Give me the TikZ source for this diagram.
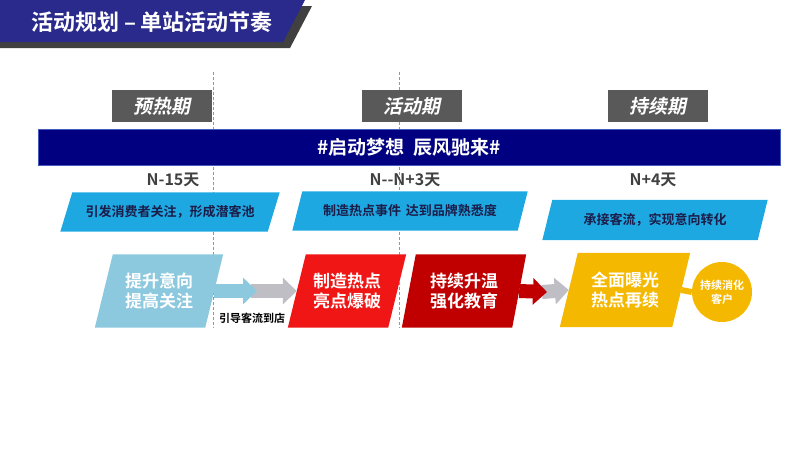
\documentclass[tikz,border=0pt]{standalone}
\usepackage{fontspec}
\setmainfont{Noto Sans CJK SC}[BoldFont={Noto Sans CJK SC Bold}]
\newfontfamily\phasefont{Noto Sans CJK SC Bold}[FakeSlant=0.2]
\usetikzlibrary{arrows.meta,backgrounds}
\definecolor{titleblue}{RGB}{42,42,140}
\definecolor{shadowgray}{RGB}{64,64,64}
\definecolor{phasegray}{RGB}{89,89,89}
\definecolor{barnavy}{RGB}{0,0,128}
\definecolor{barrim}{RGB}{70,90,190}
\definecolor{cyanbox}{RGB}{30,168,226}
\definecolor{paleblue}{RGB}{140,200,222}
\definecolor{hotred}{RGB}{240,22,22}
\definecolor{deepred}{RGB}{192,0,0}
\definecolor{goldbox}{RGB}{245,184,0}
\definecolor{arrowgray}{RGB}{190,190,196}
\definecolor{daytext}{RGB}{64,64,64}
\definecolor{navytext}{RGB}{28,28,72}
\definecolor{guidegray}{RGB}{150,150,150}

\begin{document}
\begin{tikzpicture}[x=1pt,y=-1pt,
    phase/.style={fill=phasegray,text=white,minimum width=100pt,minimum height=32pt,inner sep=0pt,
        font=\phasefont\fontsize{19}{19}\selectfont},
    day/.style={text=daytext,font=\bfseries\fontsize{16}{16}\selectfont},
    task/.style={text=navytext,minimum height=39pt,inner sep=0pt,font=\bfseries\fontsize{13}{13}\selectfont},
    stage/.style={text=white,minimum height=73pt,inner sep=0pt,align=center,
        font=\bfseries\fontsize{17}{20}\selectfont},
    fat/.style={line width=14pt,-{Triangle[length=14pt,width=26pt]}},
    guide/.style={guidegray,line width=0.6pt,dash pattern=on 3pt off 2pt},
  ]
                \useasboundingbox (0,0) rectangle (800,450);

                % heading
                \node[text=white,font=\bfseries\fontsize{22}{22}\selectfont] (title) at (152,22) {活动规划 – 单站活动节奏};

                % phases
                \node[phase] (pre) at (162,106) {预热期};
                \node[phase] (act) at (412,106) {活动期};
                \node[phase] (post) at (658,106) {持续期};

                \node[fill=barnavy,draw=barrim,line width=1pt,text=white,minimum width=742pt,minimum height=36pt,inner sep=0pt,
                      font=\bfseries\fontsize{19}{19}\selectfont] (theme) at (409,147) {\#启动梦想\hspace{9pt}辰风驰来\#};

                \node[day] (d1) at (173,180) {N-15天};
                \node[day] (d2) at (405,180) {N-{}-N+3天};
                \node[day] (d3) at (653,180) {N+4天};

                % goals
                \node[task,minimum width=207pt] (c1) at (170,212) {引发消费者关注，形成潜客池};
                \node[task,minimum width=225pt] (c2) at (410,211) {制造热点事件\hspace{5pt}达到品牌熟悉度};
                \node[task,minimum width=215pt,minimum height=40pt] (c3) at (655,220) {承接客流，实现意向转化};

                % actions
                \node[stage,minimum width=110pt] (warm) at (159,291) {提升意向\\提高关注};
                \node[stage,minimum width=100pt] (hot) at (347,291) {制造热点\\亮点爆破};
                \node[stage,minimum width=110pt] (edu) at (464,291) {持续升温\\强化教育};
                \node[stage,minimum width=112pt,minimum height=74pt] (expo) at (625,290) {全面曝光\\热点再续};
                \node[circle,fill=goldbox,text=white,minimum size=60pt,inner sep=0pt,align=center,
                      font=\bfseries\fontsize{11}{14}\selectfont] (keep) at (722,292) {持续消化\\客户};

                \node[font=\bfseries\fontsize{11}{11}\selectfont] (store) at (252,318) {引导客流到店};

                \coordinate (w1) at (251,291);
                \coordinate (w2) at (257,291);
                \coordinate (e1) at (542,292);
                \coordinate (e2) at (547,292);

                \begin{scope}[on background layer]
                \draw[guide] (213,72) -- (213,328);
                \draw[guide] (399,72) -- (399,328);
                \fill[shadowgray] (0,6) -- (312,6) -- (290,48) -- (0,48) -- cycle;
                \fill[titleblue] (0,0) -- (305,0) -- (283,42) -- (0,42) -- cycle;
                \foreach \n/\c/\s in {c1/cyanbox/6,c2/cyanbox/5,c3/cyanbox/5,
                                      warm/paleblue/9,hot/hotred/9,edu/deepred/7,expo/goldbox/9}
                  \fill[\c] ([xshift=\s pt]\n.north west) -- ([xshift=\s pt]\n.north east)
                         -- ([xshift=-\s pt]\n.south east) -- ([xshift=-\s pt]\n.south west) -- cycle;
                \end{scope}

                \draw[fat,arrowgray] (w1) -- (hot.west);
                \draw[fat,paleblue] (warm.east) -- (w2);
                \draw[fat,arrowgray] (e1) -- (expo.west);
                \draw[fat,deepred] (edu.east) -- (e2);
                \draw[goldbox,line width=6pt] (expo.east) -- (keep.west);
\end{tikzpicture}
\end{document}
